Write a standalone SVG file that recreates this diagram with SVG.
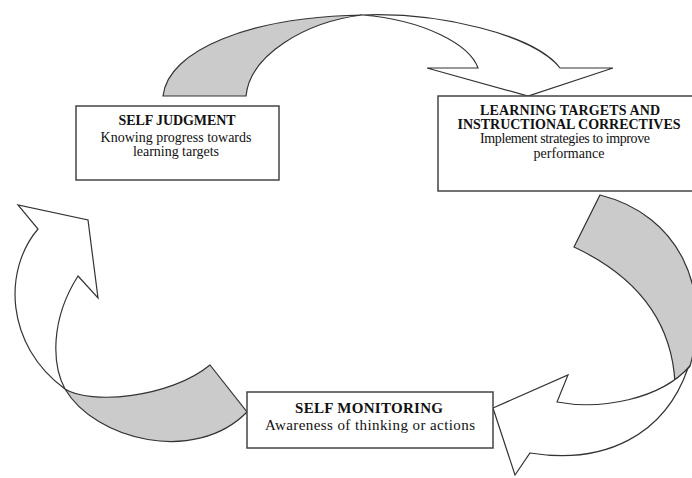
<svg xmlns="http://www.w3.org/2000/svg" width="692" height="478" viewBox="0 0 692 478">
  <style>
    .band { fill: #ffffff; stroke: #333333; stroke-width: 1.2; stroke-linejoin: miter; }
    .under { fill: #cbcbcb; stroke: #333333; stroke-width: 1.2; stroke-linejoin: miter; }
    .box { fill: #ffffff; stroke: #444444; stroke-width: 1.5; }
    .title { font-family: "Liberation Serif", "Times New Roman", serif; font-weight: bold; font-size: 14px; fill: #111111; text-anchor: middle; }
    .body { font-family: "Liberation Serif", "Times New Roman", serif; font-size: 14px; fill: #111111; text-anchor: middle; }
  </style>
  <rect x="0" y="0" width="692" height="478" fill="#ffffff"/>

  <!-- twisted ribbon arrows linking the three stages -->
  <g id="connectors">
    <!-- top: self judgment -> learning targets -->
    <g id="arrow-top">
      <path class="under" d="M163,96 C168,50 250,17 362,15 C305,22 250,55 246,96 Z"/>
      <path class="band" d="M362,15 C440,12 535,35 560,68 L613,68 L528,96 L427,68 L478,68 C470,45 425,20 362,15 Z"/>
    </g>
    <!-- right: learning targets -> self monitoring -->
    <g id="arrow-right">
      <path class="under" d="M600,195 C680,215 712,290 690,366 L675,383 C672,325 640,278 574,247 Z"/>
      <path class="band" d="M690,366 C660,400 600,410 557,402 L568,375 L493,408 L515,475 L530,453 C605,465 665,435 688,368 Z"/>
    </g>
    <!-- left: self monitoring -> self judgment -->
    <g id="arrow-left">
      <path class="under" d="M65,389 C90,405 170,398 210,365 L247,412 C195,465 95,440 65,389 Z"/>
      <path class="band" d="M78,276 L98,298 L88,220 L18,205 L38,229 C3,270 5,345 65,389 C52,365 50,320 78,276 Z"/>
    </g>
  </g>

  <g id="self-judgment">
    <rect class="box" x="76" y="106" width="203" height="74"/>
    <text class="title" x="177" y="125" textLength="117">SELF JUDGMENT</text>
    <text class="body" x="176" y="142" textLength="151">Knowing progress towards</text>
    <text class="body" x="176" y="156" textLength="86">learning targets</text>
  </g>

  <g id="learning-targets">
    <rect class="box" x="438" y="96" width="256" height="95"/>
    <text class="title" x="570" y="115" textLength="180">LEARNING TARGETS AND</text>
    <text class="title" x="569" y="129" textLength="223">INSTRUCTIONAL CORRECTIVES</text>
    <text class="body" x="565" y="143" textLength="170">Implement strategies to improve</text>
    <text class="body" x="569" y="158" textLength="71">performance</text>
  </g>

  <g id="self-monitoring">
    <rect class="box" x="247" y="392" width="246" height="56"/>
    <text class="title" x="369" y="413" style="font-size:15px" textLength="148">SELF MONITORING</text>
    <text class="body" x="370" y="430" style="font-size:15px" textLength="210">Awareness of thinking or actions</text>
  </g>
</svg>
